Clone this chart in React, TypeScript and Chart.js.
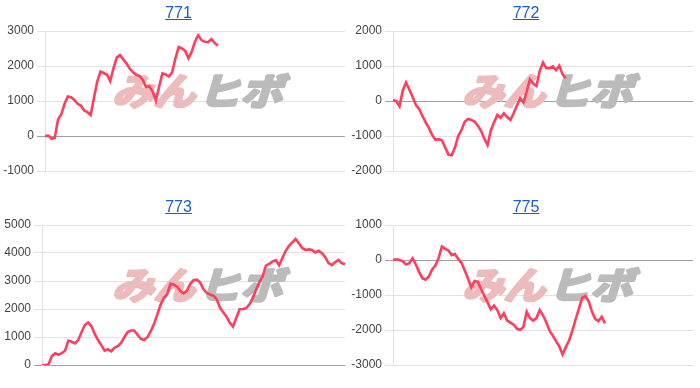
import React, { useEffect, useRef } from 'react';
import { Chart, registerables } from 'chart.js';

Chart.register(...registerables);

// number of x slots on every horizontal axis (no x tick labels shown)
const X_SLOTS = 93;

const titles = ['771', '772', '773', '775'];

const series771 = [
  0, 10, -80, -50, 470, 620, 920, 1130, 1110, 1030,
  920, 870, 730, 680, 600, 1080, 1550, 1840, 1800, 1750,
  1570, 1930, 2240, 2310, 2190, 2070, 1920, 1820, 1750, 1710,
  1600, 1400, 1420, 1270, 1010, 1410, 1790, 1760, 1700, 1820,
  2220, 2540, 2500, 2430, 2220, 2410, 2700, 2880, 2740, 2690,
  2680, 2770, 2660, 2580,
];

const series772 = [
  20, 0, -150, 300, 530, 330, 120, -110, -230, -420,
  -610, -770, -970, -1110, -1090, -1120, -1330, -1530, -1550, -1330,
  -1000, -830, -590, -510, -540, -590, -700, -850, -1070, -1260,
  -840, -610, -400, -480, -350, -460, -540, -350, -130, 80,
  -40, 270, 620, 500, 430, 860, 1100, 940, 940, 990,
  880, 1010, 760, 650,
];

const series773 = [
  0, 0, 20, 320, 420, 370, 420, 510, 870, 830,
  770, 890, 1170, 1430, 1520, 1390, 1110, 890, 710, 510,
  560, 490, 610, 670, 790, 990, 1180, 1230, 1230, 1080,
  930, 890, 990, 1200, 1460, 1800, 2150, 2390, 2520, 2900,
  2880, 2800, 2640, 2560, 2650, 2890, 3030, 3050, 2950, 2710,
  2570, 2520, 2480, 2360, 2060, 1880, 1730, 1520, 1370, 1690,
  1990, 2000, 2030, 2170, 2390, 2690, 2950, 3170, 3550, 3610,
  3700, 3740, 3560, 3820, 4080, 4260, 4380, 4500, 4350, 4180,
  4110, 4130, 4110, 4020, 4080, 3990, 3850, 3640, 3570, 3670,
  3750, 3640, 3600,
];

const series775 = [
  0, 20, 0, -40, -130, -90, 50, -130, -340, -520,
  -560, -470, -270, -160, 60, 390, 320, 270, 140, 170,
  30, -80, -300, -530, -780, -600, -620, -830, -1020, -1210,
  -1410, -1300, -1430, -1660, -1520, -1730, -1790, -1850, -1960, -2000,
  -1910, -1480, -1660, -1730, -1660, -1430, -1580, -1780, -2020, -2160,
  -2320, -2470, -2700, -2490, -2300, -2020, -1700, -1390, -1080, -1030,
  -1180, -1470, -1680, -1750, -1620, -1810,
];

const yMins = [-1000, -2000, 0, -3000];
const yMaxs = [3000, 2000, 5000, 1000];
const yStep = 1000;

const allSeries = [series771, series772, series773, series775];

// layout of the 2x2 grid
const CELL_W = 350;
const CELL_H = 194;
const axisWidths = [45, 43, 42, 43];
const rightPads = [5, 7, 5, 7];
const titleCenters = [178.5, 176, 178.5, 176];

const LINE_COLOR = 'rgb(255, 62, 94)';
const FONT = 'Arial, "Liberation Sans", sans-serif';

function drawStretched(ctx: CanvasRenderingContext2D, text: string, x: number, y: number, sx: number) {
  ctx.save();
  ctx.translate(x, y);
  ctx.scale(sx, 1);
  ctx.strokeText(text, 0, 0);
  ctx.fillText(text, 0, 0);
  ctx.restore();
}

const watermarkPlugin = {
  id: 'watermark',
  beforeDatasetsDraw(chart: any) {
    const ctx = chart.ctx as CanvasRenderingContext2D;
    ctx.save();
    ctx.translate(0, 105);
    ctx.transform(1, 0, -0.3, 1, 0, 0);
    ctx.font = 'bold 37px "Noto Sans CJK JP", sans-serif';
    ctx.textBaseline = 'alphabetic';
    ctx.textAlign = 'left';
    ctx.lineJoin = 'round';
    ctx.lineWidth = 3;
    ctx.fillStyle = '#ecbcbc';
    ctx.strokeStyle = '#ecbcbc';
    drawStretched(ctx, 'みん', 112, 0, 1.12);
    ctx.fillStyle = '#bbbbbb';
    ctx.strokeStyle = '#bbbbbb';
    drawStretched(ctx, 'ヒボ', 198, 0, 1.14);
    ctx.restore();
  },
};

function MiniChart({ idx }: { idx: number }) {
  const ref = useRef<HTMLCanvasElement | null>(null);

  useEffect(() => {
    if (!ref.current) return;
    const labels = Array.from({ length: X_SLOTS }, () => '');
    const chart = new Chart(ref.current, {
      type: 'line',
      data: {
        labels,
        datasets: [
          {
            data: allSeries[idx],
            borderColor: LINE_COLOR,
            borderWidth: 2.6,
            pointRadius: 0,
            tension: 0,
            fill: false,
          },
        ],
      },
      options: {
        responsive: false,
        animation: false,
        events: [],
        layout: { padding: { top: 31, bottom: 23, left: 0, right: rightPads[idx] } },
        plugins: { legend: { display: false }, tooltip: { enabled: false }, title: { display: false } },
        scales: {
          x: { display: false },
          y: {
            min: yMins[idx],
            max: yMaxs[idx],
            afterFit: (scale: any) => {
              scale.width = axisWidths[idx];
            },
            ticks: {
              stepSize: yStep,
              color: '#444',
              padding: 3,
              font: { family: FONT, size: 12 },
              callback: (v: any) => String(v),
            },
            grid: {
              color: (c: any) => (c.tick && c.tick.value === 0 ? '#a0a0a0' : '#e2e2e2'),
              lineWidth: 1,
              tickLength: 8,
              drawTicks: true,
            },
            border: { color: '#e2e2e2', width: 1 },
          },
        },
      },
      plugins: [watermarkPlugin],
    } as any);
    return () => chart.destroy();
  }, [idx]);

  const col = idx % 2;
  const row = Math.floor(idx / 2);
  return (
    <div
      style={{
        position: 'absolute',
        left: col * CELL_W,
        top: row * CELL_H,
        width: CELL_W,
        height: CELL_H,
      }}
    >
      <canvas ref={ref} width={CELL_W} height={CELL_H} style={{ display: 'block' }} />
      <a
        href="#"
        style={{
          position: 'absolute',
          top: 3,
          left: titleCenters[idx] - 40,
          width: 80,
          textAlign: 'center',
          fontFamily: FONT,
          fontSize: 16,
          lineHeight: '20px',
          color: '#1a5dc4',
          textDecoration: 'underline',
        }}
      >
        {titles[idx]}
      </a>
    </div>
  );
}

export default function App() {
  return (
    <div
      style={{
        position: 'fixed',
        left: 0,
        top: 0,
        width: CELL_W * 2,
        height: CELL_H * 2,
        background: '#fff',
      }}
    >
      {[0, 1, 2, 3].map((i) => (
        <MiniChart key={i} idx={i} />
      ))}
    </div>
  );
}
